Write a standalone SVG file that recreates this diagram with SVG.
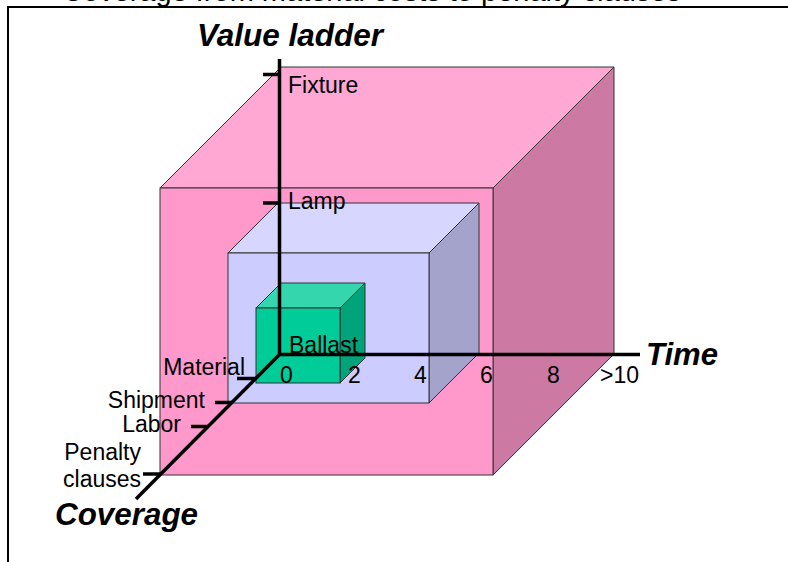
<svg xmlns="http://www.w3.org/2000/svg" width="788" height="562" viewBox="0 0 788 562">
<style>
.edge{stroke:#333;stroke-width:1;stroke-linejoin:miter}
.axis{stroke:#000;stroke-width:3.5;fill:none}
.tick{stroke:#000;stroke-width:3.5}
.lbl{font-family:"Liberation Sans",Arial,sans-serif;font-size:23px;fill:#000}
.ttl{font-family:"Liberation Sans",Arial,sans-serif;font-size:31px;font-weight:bold;font-style:italic;fill:#000}
</style>
<rect width="788" height="562" fill="#fff"/>
<text x="62" y="1" font-family="Liberation Sans, Arial, sans-serif" font-size="29" fill="#000">Coverage from material costs to penalty clauses</text>
<path d="M8 562 V7 H788" fill="none" stroke="#000" stroke-width="2"/>

<g id="outer-cube">
<polygon class="edge" fill="#FFA8D4" points="160,188 281,67 614,67 493,188"/>
<polygon class="edge" fill="#CC79A3" points="493,188 614,67 614,354 493,475"/>
<rect class="edge" fill="#FF99CC" x="160" y="188" width="333" height="287"/>
</g>
<g id="middle-cube">
<polygon class="edge" fill="#D6D6FF" points="228,253 278,203 479,203 429,253"/>
<polygon class="edge" fill="#A3A3CC" points="429,253 479,203 479,353 429,403"/>
<rect class="edge" fill="#CCCCFF" x="228" y="253" width="201" height="150"/>
</g>
<g id="inner-cube">
<polygon class="edge" fill="#33D6AD" points="256,308 281,283 365,283 340,308"/>
<polygon class="edge" fill="#00A37A" points="340,308 365,283 365,358 340,383"/>
<rect class="edge" fill="#00CC99" x="256" y="308" width="84" height="75"/>
</g>

<g id="axes">
<line class="axis" x1="279.5" y1="59" x2="279.5" y2="355"/>
<line class="axis" x1="278" y1="354.5" x2="640" y2="354.5"/>
<line class="axis" x1="280" y1="354" x2="136" y2="499"/>
<line class="tick" x1="263" y1="74.5" x2="280" y2="74.5"/>
<line class="tick" x1="263" y1="203" x2="280" y2="203"/>
<line class="tick" x1="237" y1="378.5" x2="255" y2="378.5"/>
<line class="tick" x1="215" y1="402.5" x2="232" y2="402.5"/>
<line class="tick" x1="191" y1="426.5" x2="208" y2="426.5"/>
<line class="tick" x1="143" y1="474" x2="161" y2="474"/>
</g>

<g id="labels">
<text class="ttl" x="197" y="46" textLength="186" lengthAdjust="spacingAndGlyphs">Value ladder</text>
<text class="ttl" x="646" y="365" textLength="72" lengthAdjust="spacingAndGlyphs">Time</text>
<text class="ttl" x="55" y="525" textLength="143" lengthAdjust="spacingAndGlyphs">Coverage</text>
<text class="lbl" x="288" y="92.5">Fixture</text>
<text class="lbl" x="288" y="209">Lamp</text>
<text class="lbl" x="289" y="352.5">Ballast</text>
<text class="lbl" x="280" y="382.5">0</text>
<text class="lbl" x="348" y="382.5">2</text>
<text class="lbl" x="414" y="382.5">4</text>
<text class="lbl" x="480" y="382.5">6</text>
<text class="lbl" x="547" y="382.5">8</text>
<text class="lbl" x="600" y="382.5">&gt;10</text>
<text class="lbl" x="245" y="374.5" text-anchor="end">Material</text>
<text class="lbl" x="205" y="408" text-anchor="end">Shipment</text>
<text class="lbl" x="181" y="432" text-anchor="end">Labor</text>
<text class="lbl" x="141" y="459.5" text-anchor="end">Penalty</text>
<text class="lbl" x="141" y="487" text-anchor="end">clauses</text>
</g>
</svg>
